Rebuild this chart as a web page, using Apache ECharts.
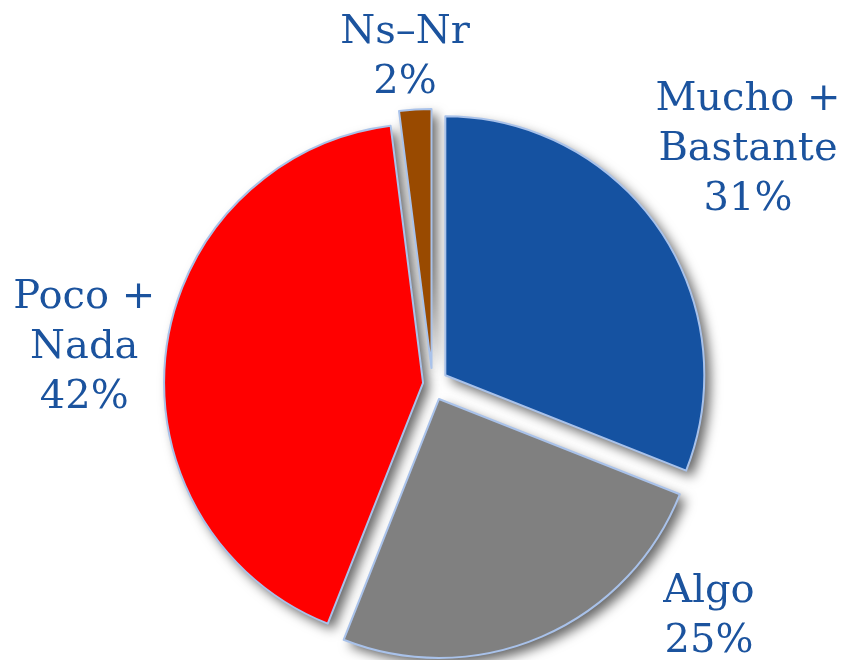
<!DOCTYPE html>
<html>
<head>
<meta charset="utf-8">
<script src="https://cdn.jsdelivr.net/npm/echarts@6/dist/echarts.min.js"></script>
<style>
html,body{margin:0;padding:0;background:#fff;}
#chart{width:843px;height:660px;}
</style>
</head>
<body>
<div id="chart"></div>
<script>
// ---- data ----
var categories = ['Mucho +\nBastante', 'Algo', 'Poco +\nNada', 'Ns\u2013Nr'];
var values = [31, 25, 42, 2];

// ---- styles / layout ----
var colors = ['#1552a1', '#808080', '#ff0000', '#994a00'];
var pieCenter = [432.5, 384];
var pieRadius = 259;
var explode = [15.5, 16.3, 9.5, 16];
var labelLen = [142, -21.5, 19, 51.6];
var labelLen2 = [-29, 175.7, 63, 7];

var total = values.reduce(function (a, b) { return a + b; }, 0);
var hidden = { color: 'rgba(0,0,0,0)', borderWidth: 0, shadowBlur: 0, shadowColor: 'rgba(0,0,0,0)' };

function sliceCenter(i) {
  var cum = 0;
  for (var k = 0; k < i; k++) cum += values[k];
  var mid = (cum + values[i] / 2) / total;
  var ang = (-90 + 360 * mid) * Math.PI / 180;
  return [pieCenter[0] + explode[i] * Math.cos(ang), pieCenter[1] + explode[i] * Math.sin(ang)];
}

function makeSeries(i, shadowLayer) {
  var data = [];
  for (var j = 0; j < values.length; j++) {
    var own = (i === j);
    var style;
    if (!own) style = hidden;
    else if (shadowLayer) style = {
      color: colors[j], borderWidth: 0,
      shadowBlur: 12, shadowOffsetX: 6, shadowOffsetY: 6, shadowColor: 'rgba(0,0,0,0.6)'
    };
    else style = { color: colors[j], borderColor: '#a9c2ea', borderWidth: 2, shadowBlur: 0 };
    data.push({
      name: categories[j],
      value: values[j],
      itemStyle: style,
      label: { show: own && !shadowLayer },
      labelLine: { show: false, length: labelLen[j], length2: labelLen2[j] }
    });
  }
  return {
    type: 'pie',
    silent: true,
    center: sliceCenter(i),
    radius: pieRadius,
    startAngle: 90,
    clockwise: true,
    avoidLabelOverlap: false,
    label: {
      position: 'outside',
      alignTo: 'none',
      distanceToLabelLine: 0,
      formatter: function (p) { return p.name + '\n' + p.value + '%'; },
      fontFamily: 'DejaVu Serif',
      fontSize: 40,
      lineHeight: 50,
      color: '#1b539e'
    },
    labelLayout: function () { return { align: 'center', verticalAlign: 'middle' }; },
    emphasis: { disabled: true },
    data: data
  };
}

var series = [];
for (var i = 0; i < values.length; i++) series.push(makeSeries(i, true));
for (var i2 = 0; i2 < values.length; i2++) series.push(makeSeries(i2, false));

var chart = echarts.init(document.getElementById('chart'));
chart.setOption({ animation: false, backgroundColor: '#ffffff', series: series });
</script>
</body>
</html>
